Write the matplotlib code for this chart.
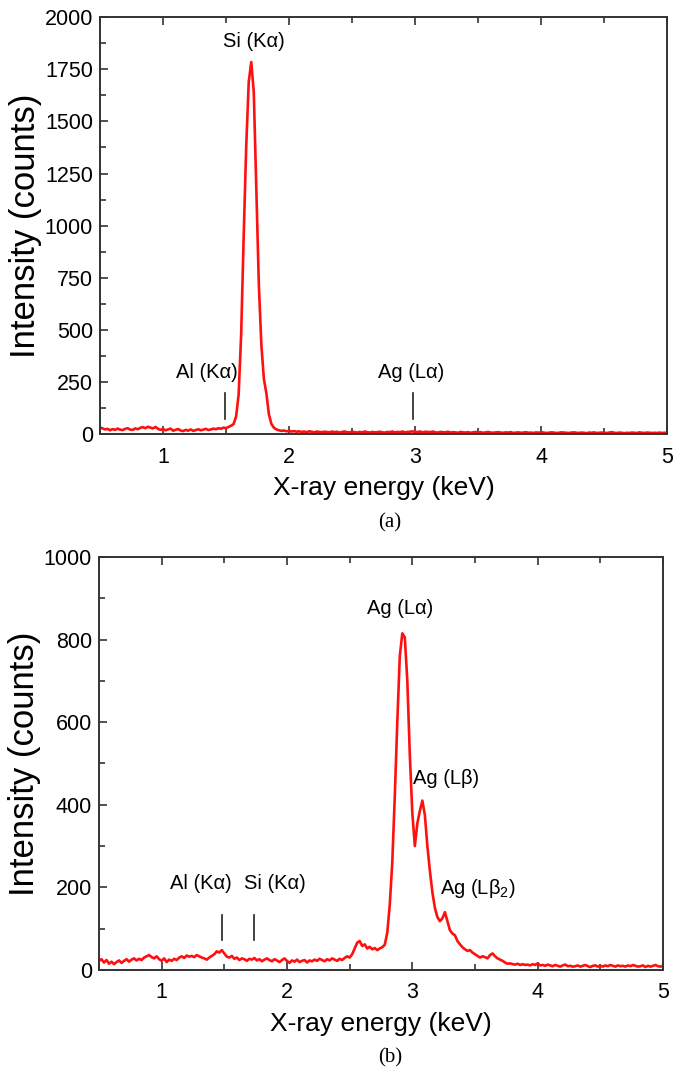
import numpy as np
import matplotlib
matplotlib.use("Agg")
import matplotlib.pyplot as plt
from matplotlib.ticker import MultipleLocator

plt.rcParams['font.family'] = ['Liberation Sans', 'DejaVu Sans']
plt.rcParams['mathtext.fontset'] = 'custom'
plt.rcParams['mathtext.rm'] = 'Liberation Sans'

# energy channels (keV), 0.02 keV steps
energy = np.round(np.arange(0.5, 5.001, 0.02), 2)

# (a) spectrum, counts
counts_a = [
    32, 27, 22, 25, 18, 24, 20, 26, 21, 19,
    25, 28, 21, 20, 27, 23, 30, 33, 28, 35,
    31, 27, 34, 25, 20, 24, 18, 22, 26, 16,
    20, 24, 17, 14, 20, 16, 22, 15, 19, 23,
    18, 21, 25, 19, 22, 26, 23, 28, 25, 31,
    28, 34, 40, 48, 85, 190, 480, 950, 1380, 1690,
    1785, 1640, 1180, 720, 430, 265, 195, 95, 48, 30,
    22, 18, 15, 17, 13, 15, 12, 14, 11, 13,
    10, 12, 9, 13, 11, 8, 12, 10, 9, 11,
    10, 8, 12, 9, 11, 7, 10, 12, 9, 8,
    11, 9, 7, 10, 8, 12, 9, 7, 10, 8,
    9, 11, 8, 7, 10, 9, 12, 8, 10, 9,
    12, 8, 10, 11, 13, 9, 10, 12, 8, 11,
    10, 9, 12, 8, 7, 10, 9, 8, 11, 7,
    9, 8, 6, 10, 8, 7, 9, 6, 8, 10,
    7, 9, 6, 8, 10, 7, 6, 8, 9, 7,
    6, 8, 7, 9, 5, 7, 8, 6, 7, 9,
    6, 7, 5, 8, 6, 9, 7, 5, 6, 8,
    7, 5, 6, 8, 7, 6, 5, 7, 8, 6,
    5, 7, 6, 4, 7, 6, 8, 5, 6, 7,
    6, 5, 7, 9, 6, 5, 7, 6, 4, 6,
    5, 7, 6, 5, 8, 6, 5, 7, 6, 5,
    6, 5, 7, 5, 6, 5,
]

# (b) spectrum, counts
counts_b = [
    22, 26, 18, 24, 15, 20, 14, 19, 23, 17,
    22, 26, 20, 25, 28, 23, 27, 24, 30, 33,
    36, 31, 28, 33, 26, 22, 28, 19, 25, 22,
    27, 24, 30, 33, 29, 35, 32, 34, 31, 36,
    33, 30, 28, 25, 30, 34, 38, 45, 42, 48,
    40, 32, 30, 34, 27, 30, 24, 28, 26, 22,
    27, 25, 29, 23, 26, 21, 25, 28, 24, 21,
    26, 23, 19, 24, 28, 22, 17, 23, 20, 25,
    19, 22, 24, 18, 23, 21, 25, 22, 27, 24,
    21, 26, 23, 28, 25, 22, 27, 24, 29, 33,
    30, 38, 52, 66, 70, 58, 62, 52, 56, 50,
    53, 48, 52, 55, 61, 90, 158, 260, 420, 600,
    760, 815, 805, 700, 520, 380, 300, 355, 385, 410,
    375, 300, 240, 188, 150, 128, 118, 125, 140, 118,
    96, 88, 84, 70, 62, 55, 50, 46, 48, 42,
    38, 34, 30, 33, 31, 28, 36, 40, 33, 28,
    25, 22, 18, 15, 16, 14, 13, 15, 12, 14,
    12, 13, 11, 14, 12, 16, 11, 12, 10, 13,
    11, 9, 12, 10, 8, 11, 13, 9, 10, 8,
    9, 11, 8, 10, 12, 9, 7, 10, 11, 8,
    10, 8, 11, 9, 12, 10, 8, 11, 9, 10,
    8, 11, 9, 12, 10, 8, 9, 11, 7, 10,
    8, 10, 12, 9, 8, 10,
]

# peak labels: (text, x, y)
labels_a = [('Si (Kα)', 1.72, 1840), ('Al (Kα)', 1.35, 250), ('Ag (Lα)', 2.97, 250)]
marks_a = [(1.49, 70, 195), (2.98, 70, 195)]
labels_b = [('Ag (Lα)', 2.9, 852), ('Ag (Lβ)', 3.27, 440),
            ('Ag (Lβ$_2$)', 3.52, 170),
            ('Al (Kα)', 1.31, 186), ('Si (Kα)', 1.90, 186)]
marks_b = [(1.48, 73, 133), (1.74, 73, 133)]

red = '#ff1010'
spine = '#333333'

fig = plt.figure(figsize=(6.85, 10.77), dpi=100)
ax1 = fig.add_axes([0.146, 0.597, 0.828, 0.387])
ax2 = fig.add_axes([0.1445, 0.0994, 0.8234, 0.3835])


def style(ax, ymax, ystep):
    ax.set_xlim(0.5, 5)
    ax.set_ylim(0, ymax)
    ax.xaxis.set_major_locator(MultipleLocator(1))
    ax.xaxis.set_minor_locator(MultipleLocator(0.5))
    ax.yaxis.set_major_locator(MultipleLocator(ystep))
    ax.yaxis.set_minor_locator(MultipleLocator(ystep / 2))
    ax.tick_params(which='both', direction='in', top=True, right=False,
                   color=spine, width=1.2, labelsize=15.5)
    ax.tick_params(axis='x', pad=9)
    ax.tick_params(axis='y', pad=5)
    ax.tick_params(which='major', length=6)
    ax.tick_params(which='minor', length=4)
    for s in ax.spines.values():
        s.set_color(spine)
        s.set_linewidth(1.4)
    ax.set_xlabel('X-ray energy (keV)', fontsize=19, labelpad=6)
    ax.set_ylabel('Intensity (counts)', fontsize=25, labelpad=2)


ax1.plot(energy, counts_a, color=red, lw=1.9)
style(ax1, 2000, 250)
for t, x, y in labels_a:
    ax1.text(x, y, t, ha='center', va='bottom', fontsize=14.5)
for x, y0, y1 in marks_a:
    ax1.plot([x, x], [y0, y1], color='#222222', lw=1.2)

ax2.plot(energy, counts_b, color=red, lw=1.9)
style(ax2, 1000, 200)
for t, x, y in labels_b:
    ax2.text(x, y, t, ha='center', va='bottom', fontsize=14.5)
for x, y0, y1 in marks_b:
    ax2.plot([x, x], [y0, y1], color='#222222', lw=1.2)

fig.text(390 / 685, 1 - 523 / 1077, '(a)', ha='center', va='center',
         fontsize=15, family='Liberation Serif')
fig.text(390 / 685, 1 - 1058 / 1077, '(b)', ha='center', va='center',
         fontsize=15, family='Liberation Serif')

fig.savefig('out.png', dpi=100)
